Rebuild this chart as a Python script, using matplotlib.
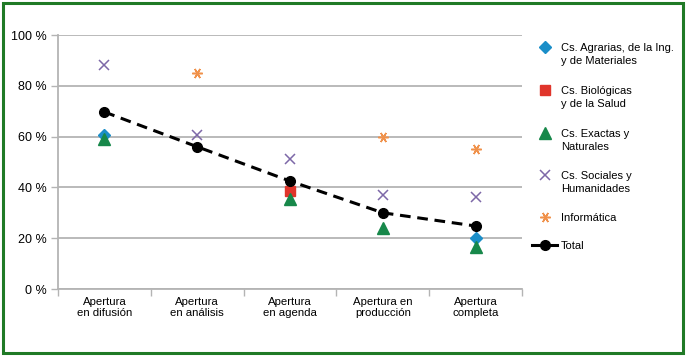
import numpy as np
import matplotlib.pyplot as plt
from matplotlib.lines import Line2D
from matplotlib.patches import Rectangle

plt.rcParams['font.family'] = ['Liberation Sans', 'DejaVu Sans']

categories = ['Apertura\nen difusión', 'Apertura\nen análisis', 'Apertura\nen agenda',
              'Apertura en\nproducción', 'Apertura\ncompleta']
nan = np.nan
agrarias = [60.6, nan, nan, nan, 20.0]
biologicas = [nan, nan, 38.6, nan, nan]
exactas = [59.0, nan, 35.4, 24.0, 16.5]
sociales = [88.2, 60.6, 51.2, 37.0, 36.2]
informatica = [nan, 85.0, nan, 59.8, 55.1]
total = [69.7, 56.0, 42.5, 30.0, 24.8]
yticks = [0, 20, 40, 60, 80, 100]

labels = ['Cs. Agrarias, de la Ing.\ny de Materiales', 'Cs. Biológicas\ny de la Salud',
          'Cs. Exactas y\nNaturales', 'Cs. Sociales y\nHumanidades', 'Informática', 'Total']
styles = [
    dict(marker='D', ms=6.5, color='#1a8ec8'),
    dict(marker='s', ms=7, color='#e0352b'),
    dict(marker='^', ms=8.5, color='#17884a'),
    dict(marker='x', ms=7.5, mew=1.1, color='#7d68a8'),
    dict(marker=(6, 2, 90), ms=7.5, mew=1.1, color='#f0914a'),
    dict(marker='o', ms=7, color='black'),
]
series = [agrarias, biologicas, exactas, sociales, informatica]

W, H = 687, 357
fig = plt.figure(figsize=(W / 100, H / 100), dpi=100)
ax = fig.add_axes([58 / W, 1 - 289 / H, (522 - 58) / W, (289 - 35) / H])

x = np.arange(len(categories))
for vals, st in zip(series, styles[:5]):
    ax.plot(x, vals, linestyle='none', **st)
ax.plot(x, total, linestyle=(0, (3.5, 2.2)), lw=2.2, **styles[5])

ax.set_xlim(-0.5, len(categories) - 0.5)
ax.set_ylim(0, 100)
ax.set_yticks(yticks)
ax.set_yticklabels([f'{v} %' for v in yticks], fontsize=9)
ax.yaxis.grid(True, color='#b4b4b4', lw=1.3)
ax.set_axisbelow(True)
ax.set_xticks(x)
ax.set_xticklabels(categories, fontsize=8.2, linespacing=1.05)
ax.tick_params(axis='x', length=0, pad=6)
ax.set_xticks(np.arange(-0.5, len(categories)), minor=True)
ax.tick_params(axis='x', which='minor', length=5, color='#b4b4b4', width=1)
ax.tick_params(axis='y', length=5, color='#b4b4b4', width=1, pad=3)
for s in ['top', 'right']:
    ax.spines[s].set_visible(False)
for s in ['left', 'bottom']:
    ax.spines[s].set_color('#b4b4b4')
    ax.spines[s].set_linewidth(1.3)

# legend drawn by hand so the entry spacing follows the original
entry_y = [47, 90, 133, 175, 217, 245]
for lab, st, py in zip(labels, styles, entry_y):
    fy = 1 - py / H
    if lab == 'Total':
        fig.add_artist(Line2D([532 / W, 557 / W], [fy, fy], lw=2.2, transform=fig.transFigure,
                              color='black'))
    fig.add_artist(Line2D([545 / W], [fy], transform=fig.transFigure, ls='none', **st))
    fig.text(561 / W, fy + 4 / H, lab, fontsize=8.0, va='top', ha='left', linespacing=1.4)

fig.add_artist(Rectangle((0.004, 0.01), 0.99, 0.982, transform=fig.transFigure,
                         fill=False, edgecolor='#207a26', lw=2.2))

fig.savefig('out.png', dpi=100)
